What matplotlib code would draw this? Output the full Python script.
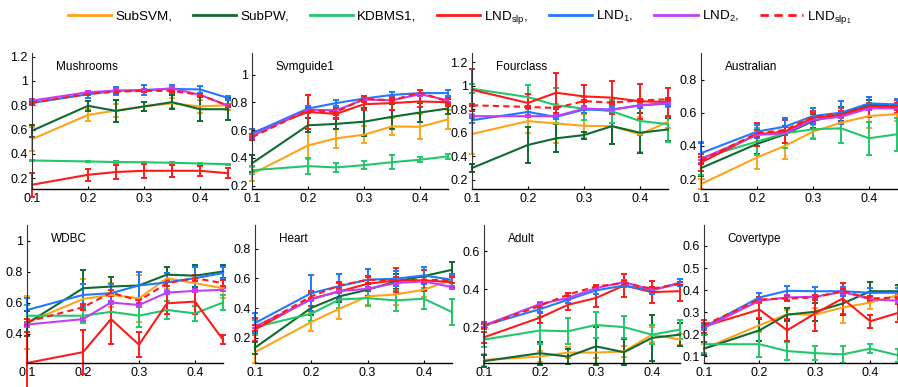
import numpy as np
import matplotlib
matplotlib.use("Agg")
import matplotlib.pyplot as plt
from matplotlib.lines import Line2D

plt.rcParams['font.family'] = ['Liberation Sans', 'DejaVu Sans']
plt.rcParams['mathtext.default'] = 'regular'

FIG_W, FIG_H = 898, 387

ratios = [0.1, 0.2, 0.25, 0.3, 0.35, 0.4, 0.45]
methods = ['SubSVM,', 'SubPW,', 'KDBMS1,', r'LND$_{slp}$,', r'LND$_1$,',
           r'LND$_2$,', r'LND$_{slp_1}$']
colors = ['#FFA31A', '#0E6B30', '#22C76B', '#FF1A1A', '#2079FF', '#C63CF5', '#FF1A1A']
styles = ['-', '-', '-', '-', '-', '-', (0, (3, 2))]

# rows follow the method order above
mushrooms = [
    [0.52, 0.72, 0.756, 0.79, 0.816, 0.79, 0.80],
    [0.59, 0.795, 0.753, 0.79, 0.825, 0.767, 0.767],
    [0.345, 0.337, 0.332, 0.33, 0.326, 0.32, 0.315],
    [0.145, 0.227, 0.25, 0.26, 0.26, 0.26, 0.24],
    [0.82, 0.89, 0.918, 0.926, 0.934, 0.93, 0.86],
    [0.838, 0.907, 0.92, 0.92, 0.94, 0.885, 0.797],
    [0.82, 0.893, 0.912, 0.918, 0.918, 0.885, 0.795],
]
mushrooms_err = [
    [0.10, 0.05, 0.05, 0.04, 0.04, 0.05, 0.04],
    [0.05, 0.04, 0.09, 0.04, 0.06, 0.10, 0.09],
    [0.005, 0.005, 0.005, 0.005, 0.005, 0.005, 0.005],
    [0.10, 0.05, 0.06, 0.06, 0.05, 0.04, 0.04],
    [0.02, 0.03, 0.03, 0.04, 0.03, 0.03, 0.02],
    [0.01, 0.01, 0.01, 0.01, 0.01, 0.01, 0.01],
    [0.01, 0.01, 0.01, 0.01, 0.01, 0.01, 0.01],
]

svmguide1 = [
    [0.283, 0.489, 0.54, 0.566, 0.626, 0.623, 0.677],
    [0.36, 0.634, 0.644, 0.66, 0.695, 0.726, 0.755],
    [0.31, 0.34, 0.33, 0.347, 0.368, 0.386, 0.41],
    [0.578, 0.73, 0.716, 0.786, 0.794, 0.806, 0.80],
    [0.575, 0.755, 0.794, 0.827, 0.853, 0.866, 0.866],
    [0.556, 0.747, 0.742, 0.82, 0.814, 0.858, 0.814],
    [0.548, 0.742, 0.729, 0.825, 0.814, 0.871, 0.804],
]
svmguide1_err = [
    [0.05, 0.10, 0.07, 0.06, 0.06, 0.09, 0.07],
    [0.06, 0.05, 0.04, 0.10, 0.09, 0.07, 0.04],
    [0.03, 0.06, 0.03, 0.03, 0.05, 0.02, 0.02],
    [0.03, 0.12, 0.04, 0.04, 0.05, 0.04, 0.03],
    [0.03, 0.02, 0.02, 0.01, 0.02, 0.02, 0.02],
    [0.01, 0.01, 0.01, 0.01, 0.01, 0.01, 0.01],
    [0.02, 0.02, 0.02, 0.02, 0.02, 0.02, 0.02],
]

fourclass = [
    [0.589, 0.699, 0.679, 0.659, 0.656, 0.586, 0.693],
    [0.299, 0.496, 0.552, 0.58, 0.656, 0.60, 0.628],
    [0.975, 0.904, 0.834, 0.806, 0.783, 0.70, 0.673],
    [0.966, 0.854, 0.941, 0.91, 0.899, 0.868, 0.862],
    [0.707, 0.777, 0.735, 0.797, 0.797, 0.834, 0.848],
    [0.741, 0.741, 0.741, 0.806, 0.797, 0.834, 0.854],
    [0.834, 0.82, 0.811, 0.87, 0.856, 0.876, 0.885],
]
fourclass_err = [
    [0.17, 0.10, 0.17, 0.10, 0.15, 0.15, 0.05],
    [0.03, 0.15, 0.12, 0.03, 0.15, 0.17, 0.10],
    [0.04, 0.10, 0.15, 0.10, 0.10, 0.12, 0.15],
    [0.18, 0.08, 0.17, 0.10, 0.14, 0.15, 0.12],
    [0.02, 0.03, 0.02, 0.03, 0.03, 0.02, 0.02],
    [0.01, 0.01, 0.01, 0.01, 0.01, 0.01, 0.01],
    [0.01, 0.01, 0.01, 0.01, 0.01, 0.01, 0.01],
]

australian = [
    [0.17, 0.33, 0.40, 0.486, 0.54, 0.58, 0.592],
    [0.266, 0.412, 0.47, 0.55, 0.592, 0.646, 0.646],
    [0.326, 0.426, 0.476, 0.50, 0.506, 0.446, 0.47],
    [0.30, 0.47, 0.486, 0.57, 0.586, 0.636, 0.636],
    [0.356, 0.486, 0.516, 0.58, 0.60, 0.656, 0.65],
    [0.322, 0.466, 0.476, 0.556, 0.576, 0.626, 0.626],
    [0.312, 0.476, 0.496, 0.576, 0.592, 0.64, 0.636],
]
australian_err = [
    [0.03, 0.07, 0.08, 0.04, 0.04, 0.07, 0.04],
    [0.05, 0.06, 0.05, 0.04, 0.04, 0.03, 0.03],
    [0.10, 0.08, 0.09, 0.06, 0.09, 0.10, 0.10],
    [0.05, 0.07, 0.07, 0.04, 0.04, 0.06, 0.04],
    [0.06, 0.04, 0.05, 0.05, 0.07, 0.04, 0.03],
    [0.01, 0.01, 0.01, 0.01, 0.01, 0.01, 0.01],
    [0.02, 0.02, 0.02, 0.02, 0.02, 0.02, 0.02],
]

wdbc = [
    [0.47, 0.623, 0.649, 0.627, 0.757, 0.725, 0.692],
    [0.465, 0.692, 0.703, 0.71, 0.78, 0.773, 0.80],
    [0.515, 0.515, 0.54, 0.515, 0.552, 0.53, 0.60],
    [0.21, 0.28, 0.493, 0.328, 0.595, 0.606, 0.36],
    [0.552, 0.649, 0.66, 0.71, 0.73, 0.757, 0.79],
    [0.458, 0.493, 0.60, 0.584, 0.664, 0.675, 0.682],
    [0.476, 0.569, 0.664, 0.612, 0.725, 0.757, 0.725],
]
wdbc_err = [
    [0.17, 0.13, 0.08, 0.15, 0.07, 0.05, 0.06],
    [0.08, 0.12, 0.06, 0.09, 0.05, 0.07, 0.04],
    [0.07, 0.05, 0.06, 0.07, 0.06, 0.05, 0.05],
    [0.20, 0.14, 0.16, 0.08, 0.07, 0.08, 0.03],
    [0.08, 0.07, 0.06, 0.09, 0.06, 0.07, 0.04],
    [0.01, 0.01, 0.01, 0.01, 0.01, 0.01, 0.01],
    [0.02, 0.02, 0.02, 0.02, 0.02, 0.02, 0.02],
]

heart = [
    [0.103, 0.306, 0.396, 0.479, 0.492, 0.524, 0.591],
    [0.133, 0.402, 0.479, 0.524, 0.58, 0.616, 0.658],
    [0.272, 0.362, 0.458, 0.467, 0.452, 0.463, 0.373],
    [0.256, 0.463, 0.512, 0.564, 0.587, 0.587, 0.575],
    [0.299, 0.501, 0.548, 0.591, 0.598, 0.62, 0.591],
    [0.276, 0.458, 0.515, 0.53, 0.569, 0.58, 0.542],
    [0.267, 0.479, 0.553, 0.591, 0.587, 0.591, 0.587],
]
heart_err = [
    [0.07, 0.06, 0.07, 0.06, 0.07, 0.05, 0.04],
    [0.04, 0.05, 0.04, 0.04, 0.05, 0.04, 0.05],
    [0.05, 0.05, 0.06, 0.05, 0.07, 0.07, 0.09],
    [0.08, 0.05, 0.06, 0.05, 0.08, 0.07, 0.04],
    [0.07, 0.12, 0.08, 0.07, 0.05, 0.06, 0.04],
    [0.01, 0.01, 0.01, 0.01, 0.01, 0.01, 0.01],
    [0.02, 0.02, 0.02, 0.02, 0.02, 0.02, 0.02],
]

adult = [
    [0.026, 0.044, 0.065, 0.065, 0.071, 0.16, 0.134],
    [0.02, 0.062, 0.044, 0.098, 0.067, 0.143, 0.16],
    [0.134, 0.182, 0.178, 0.211, 0.20, 0.16, 0.187],
    [0.146, 0.25, 0.318, 0.354, 0.42, 0.385, 0.39],
    [0.209, 0.295, 0.345, 0.394, 0.42, 0.394, 0.435],
    [0.209, 0.322, 0.354, 0.406, 0.438, 0.397, 0.43],
    [0.205, 0.313, 0.372, 0.415, 0.433, 0.403, 0.43],
]
adult_err = [
    [0.03, 0.03, 0.03, 0.03, 0.03, 0.04, 0.03],
    [0.03, 0.06, 0.04, 0.10, 0.07, 0.12, 0.06],
    [0.04, 0.07, 0.07, 0.07, 0.06, 0.05, 0.05],
    [0.03, 0.03, 0.03, 0.05, 0.06, 0.06, 0.05],
    [0.02, 0.02, 0.02, 0.02, 0.01, 0.02, 0.02],
    [0.01, 0.01, 0.01, 0.01, 0.01, 0.01, 0.01],
    [0.01, 0.01, 0.01, 0.01, 0.01, 0.01, 0.01],
]

covertype = [
    [0.135, 0.241, 0.291, 0.289, 0.321, 0.344, 0.377],
    [0.135, 0.218, 0.289, 0.302, 0.339, 0.395, 0.395],
    [0.155, 0.155, 0.124, 0.115, 0.109, 0.135, 0.105],
    [0.236, 0.312, 0.218, 0.294, 0.362, 0.259, 0.297],
    [0.233, 0.367, 0.397, 0.395, 0.395, 0.388, 0.388],
    [0.229, 0.352, 0.367, 0.37, 0.392, 0.359, 0.352],
    [0.241, 0.358, 0.362, 0.367, 0.397, 0.362, 0.367],
]
covertype_err = [
    [0.02, 0.03, 0.02, 0.03, 0.07, 0.03, 0.02],
    [0.03, 0.05, 0.03, 0.04, 0.05, 0.04, 0.03],
    [0.04, 0.06, 0.04, 0.03, 0.04, 0.02, 0.03],
    [0.03, 0.04, 0.05, 0.08, 0.07, 0.03, 0.04],
    [0.01, 0.02, 0.02, 0.02, 0.02, 0.02, 0.02],
    [0.01, 0.01, 0.01, 0.01, 0.01, 0.01, 0.01],
    [0.01, 0.01, 0.01, 0.01, 0.01, 0.01, 0.01],
]

# (title, means, errors, ylim, yticks, axes box in pixels: left, right, top, bottom)
panels = [
    ('Mushrooms', mushrooms, mushrooms_err, (0.11, 1.23), np.arange(0.2, 1.21, 0.2), (32, 228, 53, 189)),
    ('Svmguide1', svmguide1, svmguide1_err, (0.175, 1.155), np.arange(0.2, 1.01, 0.2), (252, 448, 53, 189)),
    ('Fourclass', fourclass, fourclass_err, (0.12, 1.28), np.arange(0.2, 1.21, 0.2), (472, 668, 53, 189)),
    ('Australian', australian, australian_err, (0.14, 0.96), np.arange(0.2, 0.81, 0.2), (701, 897, 53, 189)),
    ('WDBC', wdbc, wdbc_err, (0.21, 1.1), np.arange(0.4, 1.01, 0.2), (27, 223, 225, 363)),
    ('Heart', heart, heart_err, (0.03, 0.96), np.arange(0.2, 0.81, 0.2), (255, 452, 225, 363)),
    ('Adult', adult, adult_err, (0.01, 0.74), np.arange(0.2, 0.61, 0.2), (484, 680, 225, 363)),
    ('Covertype', covertype, covertype_err, (0.07, 0.695), np.arange(0.1, 0.61, 0.1), (704, 898, 225, 363)),
]


def tick_fmt(v):
    s = f'{v:.1f}'
    return s[:-2] if s.endswith('.0') else s


fig = plt.figure(figsize=(FIG_W / 100, FIG_H / 100), dpi=100)

for title, means, errs, ylim, yticks, (l, r, t, b) in panels:
    ax = fig.add_axes([l / FIG_W, 1 - b / FIG_H, (r - l) / FIG_W, (b - t) / FIG_H])
    for k in range(len(methods)):
        ax.errorbar(ratios, means[k], yerr=errs[k], color=colors[k], ls=styles[k],
                    lw=1.5, elinewidth=1.4, capsize=2, capthick=1.4)
    for art in ax.get_children():
        if hasattr(art, 'set_clip_on'):
            art.set_clip_on(False)
    ax.set_xlim(0.1, 0.45)
    ax.set_ylim(*ylim)
    ax.set_xticks([0.1, 0.2, 0.3, 0.4])
    ax.set_xticklabels(['0.1', '0.2', '0.3', '0.4'])
    ax.set_yticks(yticks)
    ax.set_yticklabels([tick_fmt(v) for v in yticks])
    ax.tick_params(direction='in', length=2, width=0.8, labelsize=9, pad=3)
    for side in ('top', 'right'):
        ax.spines[side].set_visible(False)
    ax.spines['left'].set_color('#333333')
    ax.spines['left'].set_linewidth(0.8)
    ax.spines['bottom'].set_linewidth(1.0)
    ax.patch.set_alpha(0)
    ax.text(0.12, 0.9, title, transform=ax.transAxes, fontsize=8.5, va='center', ha='left')

handles = [Line2D([], [], color=c, ls=s, lw=2) for c, s in zip(colors, styles)]
fig.legend(handles, methods, loc='center', bbox_to_anchor=(0.512, 0.955), ncol=7,
           frameon=False, fontsize=9.7, handlelength=3.2, handletextpad=0.3,
           columnspacing=1.55)

fig.savefig('out.png', dpi=100)
